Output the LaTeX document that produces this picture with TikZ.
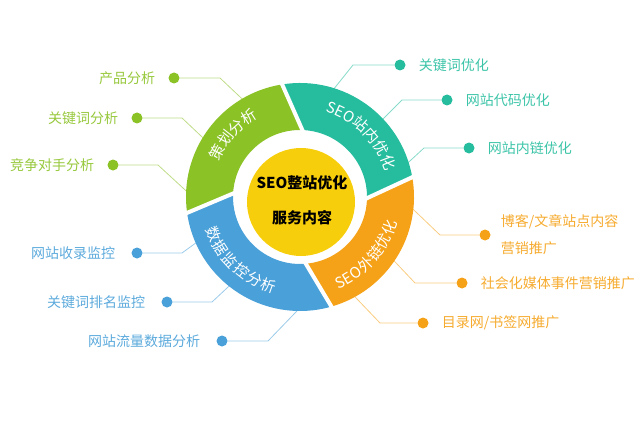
\documentclass[tikz,border=0pt]{standalone}
\usepackage{fontspec}
\newfontfamily\cjk{Noto Sans CJK SC}
\usetikzlibrary{positioning,decorations.text}
\definecolor{seggreen}{RGB}{139,194,38}
\definecolor{segteal}{RGB}{38,189,158}
\definecolor{segorange}{RGB}{245,162,24}
\definecolor{segblue}{RGB}{74,160,216}
\definecolor{segyellow}{RGB}{247,206,12}
\tikzset{
  leafdot/.style={circle, fill=#1, inner sep=0pt, minimum size=11pt},
  leaf/.style={font=\cjk\fontsize{14}{17}\selectfont, text=#1, inner sep=0pt},
  leader/.style={draw=#1, line width=0.8pt, shorten >=-8pt},
  ringtext/.style={decorate, decoration={text along path, text align=center,
      text={|\cjk\fontsize{15}{15}\selectfont\color{white}|#1}}}
}
\begin{document}
\begin{tikzpicture}[x=1pt, y=1pt, node distance=13pt]
  \useasboundingbox (0,0) rectangle (640,424);
  % dots
  \node[leafdot=seggreen] (g1) at (174,346) {};
  \node[leafdot=seggreen] (g2) at (137,306) {};
  \node[leafdot=seggreen] (g3) at (113,259) {};
  \node[leafdot=segblue] (b1) at (137,171) {};
  \node[leafdot=segblue] (b2) at (167,122) {};
  \node[leafdot=segblue] (b3) at (222,83) {};
  \node[leafdot=segteal] (t1) at (400,359) {};
  \node[leafdot=segteal] (t2) at (447,324) {};
  \node[leafdot=segteal] (t3) at (469,276) {};
  \node[leafdot=segorange] (o1) at (485,189) {};
  \node[leafdot=segorange] (o2) at (462,141) {};
  \node[leafdot=segorange] (o3) at (423,101) {};
  % labels
  \node[leaf=seggreen!90, left=of g1] (lg1) {产品分析};
  \node[leaf=seggreen!90, left=of g2] (lg2) {关键词分析};
  \node[leaf=seggreen!90, left=of g3] (lg3) {竞争对手分析};
  \node[leaf=segblue!90, left=16pt of b1] (lb1) {网站收录监控};
  \node[leaf=segblue!90, left=16pt of b2] (lb2) {关键词排名监控};
  \node[leaf=segblue!90, left=16pt of b3] (lb3) {网站流量数据分析};
  \node[leaf=segteal!90, right=of t1] (lt1) {关键词优化};
  \node[leaf=segteal!90, right=of t2] (lt2) {网站代码优化};
  \node[leaf=segteal!90, right=of t3] (lt3) {网站内链优化};
  \node[leaf=segorange!90, right=10pt of o1, align=left,
        font=\cjk\fontsize{14}{27}\selectfont] (lo1) {博客/文章站点内容\\营销推广};
  \node[leaf=segorange!90, right=of o2] (lo2) {社会化媒体事件营销推广};
  \node[leaf=segorange!90, right=of o3] (lo3) {目录网/书签网推广};
  % bends
  \coordinate (g1c) at (220,346); \coordinate (g1e) at (238,329);
  \coordinate (g2c) at (182,306); \coordinate (g2e) at (200,289);
  \coordinate (g3c) at (158,259); \coordinate (g3e) at (183,236);
  \coordinate (b1c) at (182,171); \coordinate (b1e) at (193,179);
  \coordinate (b2c) at (212,122); \coordinate (b2e) at (227,136);
  \coordinate (b3c) at (268,83);  \coordinate (b3e) at (295,111);
  \coordinate (t1c) at (353,359); \coordinate (t1e) at (337,339);
  \coordinate (t2c) at (402,324); \coordinate (t2e) at (387,309);
  \coordinate (t3c) at (424,276); \coordinate (t3e) at (411,264);
  \coordinate (o1c) at (440,189); \coordinate (o1e) at (417,211);
  \coordinate (o2c) at (415,141); \coordinate (o2e) at (398,159);
  \coordinate (o3c) at (380,101); \coordinate (o3e) at (358,124);
  \begin{scope}[-]
    \draw[leader=seggreen!55] (g1) -- (g1c) -- (g1e);
    \draw[leader=seggreen!55] (g2) -- (g2c) -- (g2e);
    \draw[leader=seggreen!55] (g3) -- (g3c) -- (g3e);
    \draw[leader=segblue!55] (b1) -- (b1c) -- (b1e);
    \draw[leader=segblue!55] (b2) -- (b2c) -- (b2e);
    \draw[leader=segblue!55] (b3) -- (b3c) -- (b3e);
    \draw[leader=segteal!55] (t1) -- (t1c) -- (t1e);
    \draw[leader=segteal!55] (t2) -- (t2c) -- (t2e);
    \draw[leader=segteal!55] (t3) -- (t3c) -- (t3e);
    \draw[leader=segorange!55] (o1) -- (o1c) -- (o1e);
    \draw[leader=segorange!55] (o2) -- (o2c) -- (o2e);
    \draw[leader=segorange!55] (o3) -- (o3c) -- (o3e);
  \end{scope}
  % ring
  \begin{scope}[shift={(300,227)}]
    \foreach \a/\b/\c in {-1/88/segteal, 88/177/seggreen, 177/275/segblue, 275/359/segorange}
      \fill[\c] (\a:67) -- ({\a+11}:114)
        arc[start angle=\a+11, end angle=\b+11, radius=114pt]
        -- (\b:67) arc[start angle=\b, end angle=\a, radius=67pt] -- cycle;
    \foreach \a in {-1,88,177,275}
      \draw[white, line width=4pt, shorten <=-3pt, shorten >=-3pt] (\a:67) -- ({\a+11}:114);
    \path[ringtext=策划分析] (172:89) arc[start angle=172, end angle=102, radius=89pt];
    \path[ringtext=SEO站内优化] (85:89) arc[start angle=85, end angle=5, radius=89pt];
    \path[ringtext=SEO外链优化, decoration={raise=-4pt}]
      (-86:96) arc[start angle=-86, end angle=4, radius=96pt];
    \path[ringtext=数据监控分析, decoration={raise=-9pt}]
      (182:91) arc[start angle=182, end angle=272, radius=91pt];
  \end{scope}
  % centre
  \fill[segyellow] (301,222) circle[radius=54pt];
  \node[font=\cjk\bfseries\fontsize{15}{17}\selectfont] (title) at (302,241) {SEO整站优化};
  \node[font=\cjk\bfseries\fontsize{15}{17}\selectfont] (sub) at (302,206) {服务内容};
\end{tikzpicture}
\end{document}
